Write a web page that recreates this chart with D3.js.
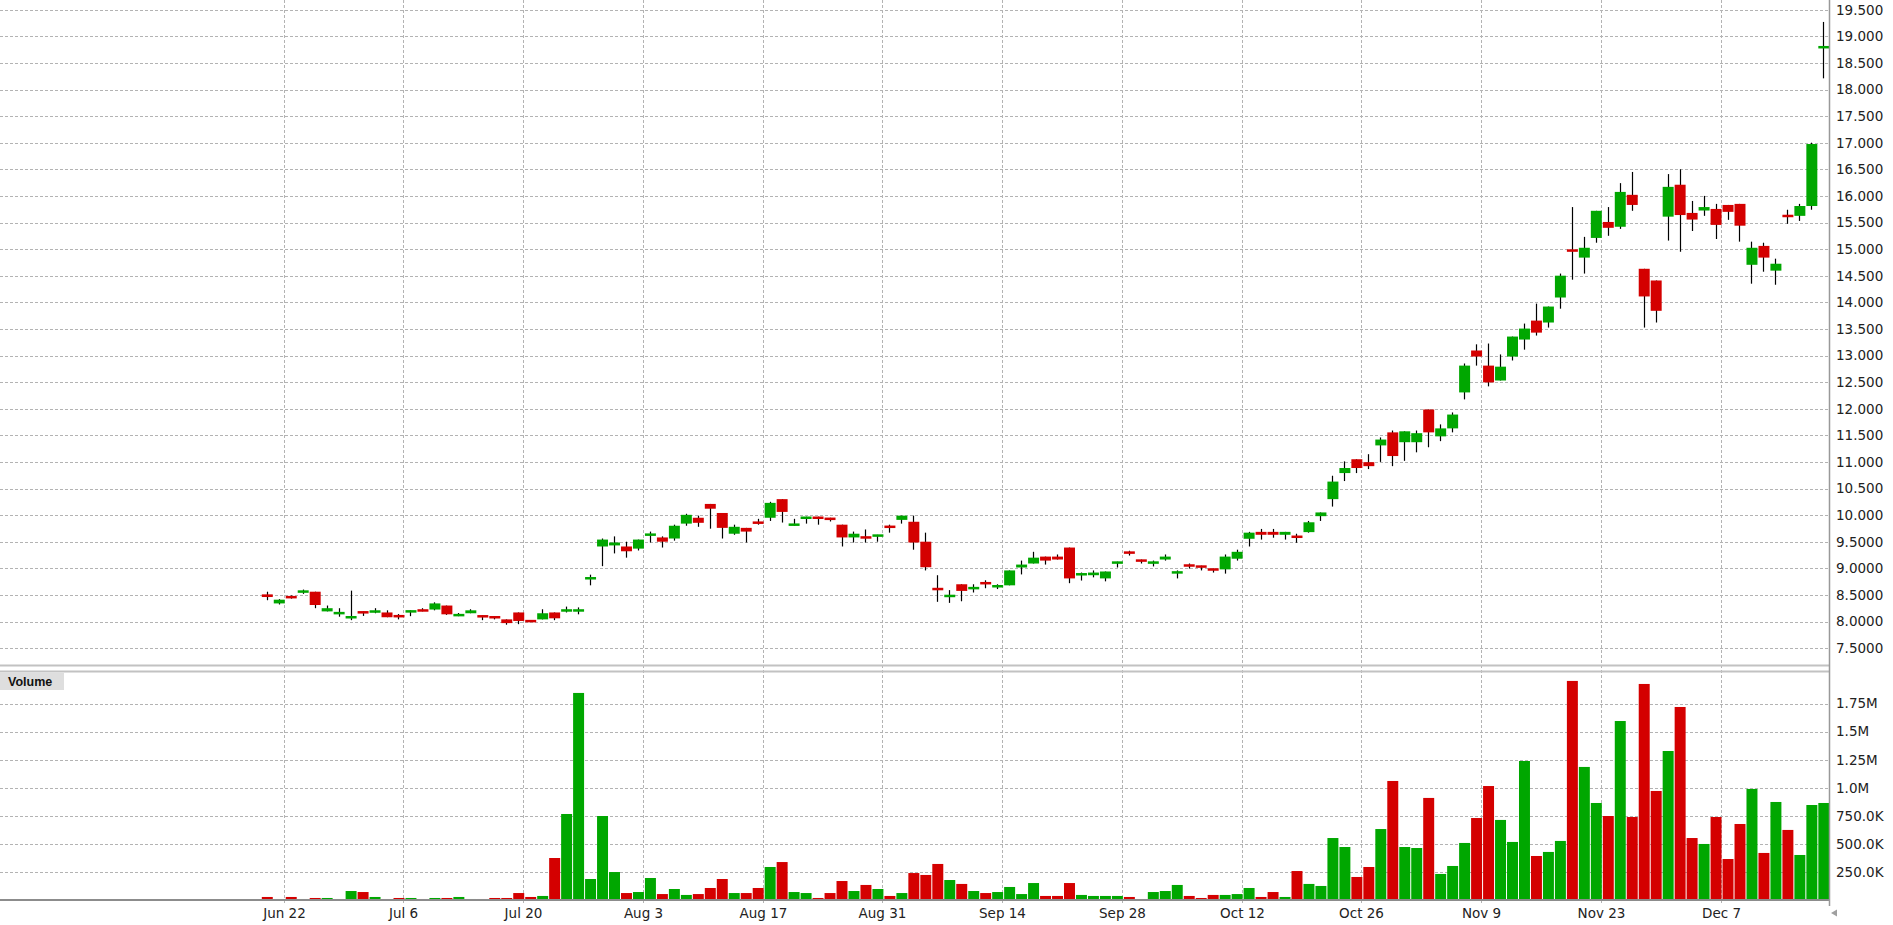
<!DOCTYPE html>
<html>
<head>
<meta charset="utf-8">
<script src="https://cdn.jsdelivr.net/npm/d3@7"></script>
<style>
  html, body { margin: 0; padding: 0; background: #ffffff; }
  svg { display: block; }
  text { font-family: "DejaVu Sans", Verdana, sans-serif; }
</style>
</head>
<body>
<svg id="chart" width="1893" height="925"></svg>
<script>
// ---------------- DATA ----------------
const monthDays = [
  ["2020-06", [18,19,22,23,24,25,26,29,30]],
  ["2020-07", [1,2,3,6,7,8,9,10,13,14,15,16,17,20,21,22,23,24,27,28,29,30,31]],
  ["2020-08", [3,4,5,6,7,10,11,12,13,14,17,18,19,20,21,24,25,26,27,28,31]],
  ["2020-09", [1,2,3,4,7,8,9,10,11,14,15,16,17,18,21,22,23,24,25,28,29,30]],
  ["2020-10", [1,2,5,6,7,8,9,12,13,14,15,16,19,20,21,22,23,26,27,28,29,30]],
  ["2020-11", [2,3,4,5,6,9,10,11,12,13,16,17,18,19,20,23,24,25,26,27,30]],
  ["2020-12", [1,2,3,4,7,8,9,10,11,14,15,16,17]]
];
const dates = monthDays.flatMap(([m, ds]) => ds.map(d => m + "-" + String(d).padStart(2, "0")));

const open = [
  8.51,8.34,8.475,8.545,8.56,8.19,8.135,8.06,8.19,8.165,
  8.17,8.12,8.17,8.225,8.225,8.30,8.10,8.155,8.115,8.10,
  8.04,8.17,8.025,8.04,8.17,8.19,8.19,8.795,9.41,9.43,
  9.41,9.37,9.615,9.58,9.56,9.84,9.95,10.21,10.04,9.65,
  9.76,9.875,9.95,10.30,9.80,9.93,9.97,9.95,9.82,9.58,
  9.60,9.60,9.80,9.91,9.875,9.50,8.63,8.46,8.70,8.61,
  8.74,8.645,8.68,9.015,9.09,9.22,9.22,9.39,8.87,8.87,
  8.81,9.09,9.31,9.165,9.09,9.165,8.905,9.07,9.05,8.995,
  8.98,9.18,9.555,9.685,9.685,9.63,9.61,9.68,9.98,10.30,
  10.79,11.05,10.995,11.31,11.555,11.37,11.37,11.985,11.48,11.63,
  12.306,13.094,12.81,12.53,12.98,13.30,13.656,13.62,14.09,14.99,
  14.84,15.21,15.51,15.42,16.02,14.63,14.41,15.61,16.21,15.68,
  15.725,15.755,15.83,15.85,14.705,15.06,14.595,15.64,15.625,15.81,
  18.78
];
const high = [
  8.56,8.42,8.49,8.60,8.56,8.30,8.25,8.58,8.19,8.25,
  8.21,8.14,8.21,8.25,8.36,8.30,8.16,8.23,8.115,8.10,
  8.04,8.17,8.025,8.23,8.17,8.28,8.265,8.88,9.56,9.60,
  9.50,9.54,9.69,9.60,9.82,10.025,9.99,10.21,10.04,9.82,
  9.76,9.93,10.25,10.30,9.93,9.97,9.97,9.95,9.82,9.69,
  9.73,9.63,9.82,9.99,9.99,9.67,8.87,8.59,8.70,8.70,
  8.775,8.70,8.96,9.145,9.31,9.22,9.26,9.39,8.92,8.96,
  8.94,9.125,9.33,9.165,9.145,9.26,8.96,9.09,9.05,8.995,
  9.26,9.35,9.685,9.74,9.74,9.685,9.65,9.89,10.05,10.74,
  11.01,11.05,11.145,11.46,11.59,11.575,11.59,11.985,11.705,11.93,
  12.85,13.21,13.225,13.02,13.356,13.60,13.975,13.92,14.54,15.79,
  15.23,15.72,15.79,16.24,16.45,14.63,14.41,16.41,16.50,15.905,
  16.00,15.85,15.83,15.85,15.14,15.12,14.82,15.74,15.85,17.00,
  19.27
];
const low = [
  8.40,8.32,8.43,8.52,8.25,8.19,8.09,8.025,8.105,8.155,
  8.08,8.04,8.10,8.19,8.21,8.125,8.10,8.155,8.025,8.04,
  7.94,7.95,7.99,8.04,8.025,8.17,8.135,8.68,9.04,9.28,
  9.20,9.335,9.485,9.39,9.52,9.80,9.78,9.745,9.56,9.63,
  9.485,9.82,9.89,9.86,9.80,9.84,9.82,9.88,9.41,9.485,
  9.485,9.50,9.67,9.84,9.35,8.96,8.37,8.35,8.38,8.545,
  8.625,8.61,8.68,8.885,9.09,9.07,9.165,8.72,8.77,8.83,
  8.755,9.015,9.24,9.09,9.035,9.145,8.81,8.995,8.96,8.92,
  8.90,9.145,9.41,9.54,9.575,9.54,9.48,9.67,9.89,10.16,
  10.64,10.79,10.865,11.00,10.92,11.02,11.18,11.275,11.39,11.555,
  12.175,12.81,12.42,12.53,12.906,13.11,13.375,13.525,13.88,14.425,
  14.54,15.12,15.25,15.38,15.72,13.525,13.62,15.16,14.95,15.34,
  15.625,15.19,15.55,15.14,14.35,14.575,14.33,15.475,15.53,15.74,
  18.21
];
const close = [
  8.46,8.41,8.44,8.58,8.31,8.25,8.18,8.10,8.155,8.21,
  8.08,8.08,8.21,8.19,8.34,8.135,8.14,8.21,8.08,8.06,
  7.97,8.01,7.99,8.155,8.06,8.225,8.225,8.83,9.54,9.485,
  9.32,9.54,9.65,9.50,9.80,10.005,9.855,10.12,9.76,9.78,
  9.69,9.84,10.23,10.06,9.84,9.97,9.93,9.91,9.58,9.65,
  9.56,9.63,9.76,9.99,9.485,9.02,8.59,8.50,8.575,8.645,
  8.70,8.68,8.96,9.07,9.20,9.145,9.165,8.81,8.905,8.92,
  8.94,9.125,9.28,9.125,9.125,9.22,8.94,9.035,9.015,8.96,
  9.22,9.31,9.67,9.63,9.63,9.685,9.575,9.865,10.05,10.63,
  10.885,10.885,10.92,11.42,11.11,11.575,11.54,11.555,11.63,11.89,
  12.81,12.98,12.494,12.79,13.356,13.506,13.43,13.92,14.50,14.955,
  15.025,15.72,15.40,16.075,15.83,14.11,13.84,16.17,15.64,15.555,
  15.79,15.455,15.70,15.44,15.025,14.84,14.725,15.605,15.81,16.975,
  18.81
];
const volume = [
  27000,9000,27000,9000,18000,18000,9000,80000,71000,27000,
  9000,18000,18000,9000,18000,18000,27000,9000,9000,18000,
  18000,62000,27000,36000,374000,766000,1844000,187000,748000,249000,
  62000,71000,196000,53000,98000,45000,53000,107000,187000,62000,
  62000,107000,294000,338000,71000,62000,18000,62000,169000,80000,
  134000,98000,36000,62000,240000,223000,321000,178000,143000,80000,
  62000,71000,116000,53000,151000,36000,36000,151000,45000,36000,
  36000,36000,27000,9000,71000,80000,134000,36000,18000,45000,
  45000,53000,107000,27000,71000,27000,258000,143000,125000,552000,
  472000,205000,294000,632000,1060000,472000,463000,909000,232000,303000,
  508000,730000,1015000,713000,517000,1238000,392000,428000,526000,1951000,
  1185000,864000,748000,1594000,739000,1924000,971000,1327000,1719000,552000,
  499000,739000,365000,677000,989000,419000,873000,624000,401000,846000,
  864000
];

const priceTicks = [7.5,8,8.5,9,9.5,10,10.5,11,11.5,12,12.5,13,13.5,14,14.5,15,15.5,16,16.5,17,17.5,18,18.5,19,19.5];
const priceTickLabels = ["7.5000","8.0000","8.5000","9.0000","9.5000","10.000","10.500","11.000","11.500","12.000","12.500","13.000","13.500","14.000","14.500","15.000","15.500","16.000","16.500","17.000","17.500","18.000","18.500","19.000","19.500"];
const volumeTicks = [250000,500000,750000,1000000,1250000,1500000,1750000];
const volumeTickLabels = ["250.0K","500.0K","750.0K","1.0M","1.25M","1.5M","1.75M"];
const dateTicks = ["2020-06-22","2020-07-06","2020-07-20","2020-08-03","2020-08-17","2020-08-31","2020-09-14","2020-09-28","2020-10-12","2020-10-26","2020-11-09","2020-11-23","2020-12-07"];
const dateTickLabels = ["Jun 22","Jul 6","Jul 20","Aug 3","Aug 17","Aug 31","Sep 14","Sep 28","Oct 12","Oct 26","Nov 9","Nov 23","Dec 7"];

// ---------------- LAYOUT ----------------
const plotRight = 1829.5;
const priceTop = 0, priceBottom = 665.5;
const volTop = 671.5, volBase = 900;
const GREEN = "#00a700", RED = "#d40000";
const GRID = "#b3b3b3";

const rows = dates.map((d, i) => ({ date: d, o: open[i], h: high[i], l: low[i], c: close[i], v: volume[i] }));

const x = d3.scaleBand().domain(dates).range([261.8, 1829.3]).paddingInner(1/12).paddingOuter(0);
const yP = d3.scaleLinear().domain([7.5, 19.5]).range([648.1, 9.7]);
const yV = d3.scaleLinear().domain([0, 1750000]).range([volBase, 703.5]);

const svg = d3.select("#chart");
const crisp = v => Math.round(v) + 0.5;

// horizontal grid: price
svg.append("g").selectAll("line").data(priceTicks).join("line")
  .attr("x1", 0).attr("x2", plotRight)
  .attr("y1", d => crisp(yP(d))).attr("y2", d => crisp(yP(d)))
  .attr("stroke", GRID).attr("stroke-width", 1).attr("stroke-dasharray", "3,2");

// horizontal grid: volume
svg.append("g").selectAll("line").data(volumeTicks).join("line")
  .attr("x1", 0).attr("x2", plotRight)
  .attr("y1", d => crisp(yV(d))).attr("y2", d => crisp(yV(d)))
  .attr("stroke", GRID).attr("stroke-width", 1).attr("stroke-dasharray", "3,2");

// vertical grid at date ticks
const gx = d => crisp(x(d) - 2);
svg.append("g").selectAll("line").data(dateTicks).join("line")
  .attr("x1", gx).attr("x2", gx)
  .attr("y1", 0).attr("y2", 905)
  .attr("stroke", GRID).attr("stroke-width", 1).attr("stroke-dasharray", "3,2");

// panel borders
svg.append("line").attr("x1", 0).attr("x2", plotRight).attr("y1", priceBottom).attr("y2", priceBottom)
  .attr("stroke", "#c2c2c2").attr("stroke-width", 2);
svg.append("line").attr("x1", 0).attr("x2", plotRight).attr("y1", volTop).attr("y2", volTop)
  .attr("stroke", "#c2c2c2").attr("stroke-width", 2);

// volume bars
svg.append("g").selectAll("rect").data(rows).join("rect")
  .attr("x", d => x(d.date))
  .attr("width", x.bandwidth())
  .attr("y", d => yV(d.v))
  .attr("height", d => volBase - yV(d.v))
  .attr("fill", d => d.c >= d.o ? GREEN : RED);

// baseline
svg.append("line").attr("x1", 0).attr("x2", plotRight).attr("y1", volBase).attr("y2", volBase)
  .attr("stroke", "#8c8c8c").attr("stroke-width", 2);

// candles: wicks
const cx = d => crisp(x(d.date) + x.bandwidth() / 2 - 0.5);
svg.append("g").selectAll("line").data(rows).join("line")
  .attr("x1", cx).attr("x2", cx)
  .attr("y1", d => yP(d.h)).attr("y2", d => yP(d.l))
  .attr("stroke", "#000").attr("stroke-width", 1.2);

// candles: bodies
svg.append("g").selectAll("rect").data(rows).join("rect")
  .attr("x", d => x(d.date))
  .attr("width", x.bandwidth())
  .attr("y", d => {
    const top = yP(Math.max(d.o, d.c)), h = Math.abs(yP(d.o) - yP(d.c));
    return h < 2.5 ? (top + h / 2 - 1.25) : top;
  })
  .attr("height", d => Math.max(2.5, Math.abs(yP(d.o) - yP(d.c))))
  .attr("fill", d => d.c >= d.o ? GREEN : RED);

// right axis line
svg.append("line").attr("x1", plotRight).attr("x2", plotRight).attr("y1", 0).attr("y2", 906)
  .attr("stroke", "#999").attr("stroke-width", 1.5);

// price labels
svg.append("g").selectAll("text").data(priceTicks).join("text")
  .attr("x", 1836).attr("y", d => yP(d)).attr("dy", "0.36em")
  .attr("font-size", "13.5px").attr("fill", "#222")
  .text((d, i) => priceTickLabels[i]);

// volume labels
svg.append("g").selectAll("text").data(volumeTicks).join("text")
  .attr("x", 1836).attr("y", d => yV(d)).attr("dy", "0.36em")
  .attr("font-size", "13.5px").attr("fill", "#222")
  .text((d, i) => volumeTickLabels[i]);

// date labels
svg.append("g").selectAll("text").data(dateTicks).join("text")
  .attr("x", d => gx(d)).attr("y", 913).attr("dy", "0.36em")
  .attr("text-anchor", "middle")
  .attr("font-size", "13.5px").attr("fill", "#222")
  .text((d, i) => dateTickLabels[i]);

// Volume label box
svg.append("rect").attr("x", 0).attr("y", 673).attr("width", 64).attr("height", 17).attr("fill", "#dedede");
svg.append("text").attr("x", 8).attr("y", 686).attr("font-size", "12.5px").attr("font-weight", "bold")
  .style("font-family", "'Liberation Sans', Arial, sans-serif").attr("fill", "#111").text("Volume");

// small arrow at bottom right
svg.append("path").attr("d", "M1831,913 L1837,909.5 L1837,916.5 Z").attr("fill", "#a0a0a0");
</script>
</body>
</html>
